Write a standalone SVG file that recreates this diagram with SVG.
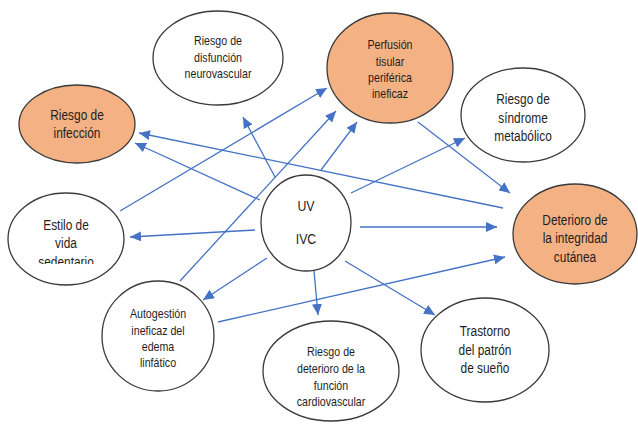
<svg xmlns="http://www.w3.org/2000/svg" width="638" height="426" viewBox="0 0 638 426">
<defs>
<marker id="arr" markerUnits="userSpaceOnUse" markerWidth="11" markerHeight="10" refX="11" refY="5" orient="auto">
<path d="M0,0 L11,5 L0,10 z" fill="#4472C4"/>
</marker>
<clipPath id="clipSed"><rect x="0" y="0" width="638" height="264"/></clipPath>
<style>
.n{fill:#fff;stroke:#3a3a3a;stroke-width:1.3}
.o{fill:#F4B183;stroke:#3a3a3a;stroke-width:1.3}
.e{stroke:#4472C4;stroke-width:1.3;fill:none;marker-end:url(#arr)}
text{font-family:"Liberation Sans",Arial,sans-serif;fill:#1e1e1e;text-anchor:middle}
.s13{font-size:13px}
.s14{font-size:14.5px}
</style>
</defs>
<rect width="638" height="426" fill="#fff"/>
<g id="connectors">
<line class="e" x1="275" y1="177" x2="243" y2="117"/>
<line class="e" x1="260" y1="200" x2="135" y2="143"/>
<line class="e" x1="503" y1="208" x2="139" y2="133"/>
<line class="e" x1="120" y1="211" x2="327" y2="88"/>
<line class="e" x1="180" y1="281" x2="336" y2="111"/>
<line class="e" x1="321" y1="170" x2="357" y2="122"/>
<line class="e" x1="418" y1="122" x2="510" y2="193"/>
<line class="e" x1="351" y1="193" x2="465" y2="138"/>
<line class="e" x1="360" y1="227" x2="497" y2="227"/>
<line class="e" x1="218" y1="322" x2="505" y2="257"/>
<line class="e" x1="345" y1="261" x2="435" y2="315"/>
<line class="e" x1="314" y1="271" x2="318" y2="315"/>
<line class="e" x1="267" y1="258" x2="203" y2="300"/>
<line class="e" x1="255" y1="230" x2="130" y2="237"/>
</g>
<g id="neurovascular">
<ellipse class="n" cx="218" cy="58" rx="65" ry="47"/>
<g transform="translate(218 0) scale(0.82 1)" class="s13">
<text x="0" y="45">Riesgo de</text><text x="0" y="62">disfunción</text><text x="0" y="78">neurovascular</text>
</g>
</g>
<g id="infeccion">
<ellipse class="o" cx="77" cy="124" rx="58" ry="39"/>
<g transform="translate(77 0) scale(0.82 1)" class="s14">
<text x="0" y="120">Riesgo de</text><text x="0" y="138">infección</text>
</g>
</g>
<g id="perfusion">
<ellipse class="o" cx="390" cy="68" rx="63" ry="55"/>
<g transform="translate(390 0) scale(0.82 1)" class="s13">
<text x="0" y="49">Perfusión</text><text x="0" y="66">tisular</text><text x="0" y="82">periférica</text><text x="0" y="98">ineficaz</text>
</g>
</g>
<g id="metabolico">
<ellipse class="n" cx="523" cy="115" rx="62" ry="47"/>
<g transform="translate(523 0) scale(0.82 1)" class="s14">
<text x="0" y="104">Riesgo de</text><text x="0" y="123">síndrome</text><text x="0" y="141">metabólico</text>
</g>
</g>
<g id="deterioro">
<ellipse class="o" cx="575" cy="234" rx="62" ry="50"/>
<g transform="translate(575 0) scale(0.82 1)" class="s14">
<text x="0" y="225">Deterioro de</text><text x="0" y="243">la integridad</text><text x="0" y="262">cutánea</text>
</g>
</g>
<g id="sedentario">
<ellipse class="n" cx="66" cy="239" rx="58" ry="46"/>
<g clip-path="url(#clipSed)">
<g transform="translate(66 0) scale(0.82 1)" class="s14">
<text x="0" y="230">Estilo de</text><text x="0" y="248">vida</text><text x="0" y="267">sedentario</text>
</g>
</g>
</g>
<g id="uvivc">
<ellipse class="n" cx="306" cy="223" rx="45" ry="48"/>
<g transform="translate(306 0) scale(0.85 1)" font-size="14.5">
<text x="0" y="211">UV</text><text x="0" y="244">IVC</text>
</g>
</g>
<g id="autogestion">
<ellipse class="n" cx="158" cy="336" rx="56" ry="55"/>
<g transform="translate(158 0) scale(0.82 1)" class="s13">
<text x="0" y="318">Autogestión</text><text x="0" y="335">ineficaz del</text><text x="0" y="351">edema</text><text x="0" y="367">linfático</text>
</g>
</g>
<g id="cardiovascular">
<ellipse class="n" cx="331" cy="371" rx="68" ry="50"/>
<g transform="translate(331 0) scale(0.82 1)" class="s13">
<text x="0" y="356">Riesgo de</text><text x="0" y="373">deterioro de la</text><text x="0" y="390">función</text><text x="0" y="406">cardiovascular</text>
</g>
</g>
<g id="sueno">
<ellipse class="n" cx="485" cy="350" rx="64" ry="52"/>
<g transform="translate(485 0) scale(0.82 1)" class="s14">
<text x="0" y="336">Trastorno</text><text x="0" y="355">del patrón</text><text x="0" y="373">de sueño</text>
</g>
</g>
</svg>
